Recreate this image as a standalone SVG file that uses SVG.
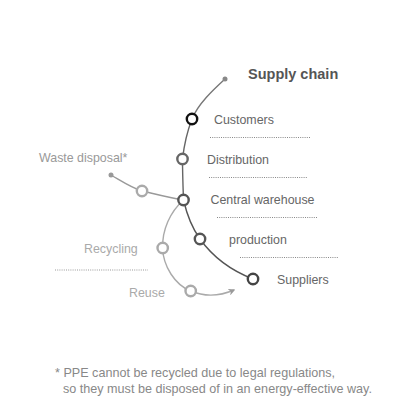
<svg xmlns="http://www.w3.org/2000/svg" width="407" height="407" viewBox="0 0 407 407">
<defs>
<marker id="arr" viewBox="0 0 10 10" refX="8" refY="5" markerWidth="7" markerHeight="7" orient="auto" markerUnits="userSpaceOnUse">
<path d="M0,0 L10,5 L0,10 L3,5 Z" fill="#999"/>
</marker>
</defs>
<style>
text{font-family:"Liberation Sans",Arial,sans-serif;font-size:12.4px}
.lbl{fill:#666}
.lt{fill:#aaa}
.dot{stroke-dasharray:1 1.2;stroke-width:1;fill:none}
.node{fill:#fff;stroke-width:2.4}
.ln{fill:none;stroke-width:1.4}
</style>
<rect width="407" height="407" fill="#fff"/>
<g id="connectors">
<path class="ln" stroke="#777" d="M225,79 C213,90 198,104 192,119"/>
<path class="ln" stroke="#666" d="M192,119 C187,132 184,146 182.5,159"/>
<path class="ln" stroke="#666" d="M182.5,159 C182.5,173 183,186 183.5,200"/>
<path class="ln" stroke="#555" d="M183.5,200 C187,215 192,228 200,239"/>
<path class="ln" stroke="#555" d="M200,239 C215,260 235,272 253,279"/>
<path class="ln" stroke="#999" d="M183.5,200 C170,198 155,194 142,191 C130,187 120,180 111,175"/>
<path class="ln" stroke="#aaa" d="M183.5,200 C170,212 162,230 162.7,248 C163,266 175,285 190.7,291 C205,297 220,296 234,290" marker-end="url(#arr)"/>
<circle cx="225" cy="79" r="2.5" fill="#888"/>
<circle cx="111" cy="175" r="2.5" fill="#999"/>
</g>
<g id="title"><text x="248" y="79" font-weight="bold" style="font-size:14.5px" fill="#555">Supply chain</text></g>
<g id="customers">
<circle class="node" cx="192" cy="119" r="5.2" stroke="#111"/>
<text class="lbl" x="214" y="124">Customers</text>
<line class="dot" stroke="#888" x1="210" y1="137.5" x2="310" y2="137.5"/>
</g>
<g id="distribution">
<circle class="node" cx="182.5" cy="159" r="5.2" stroke="#666"/>
<text class="lbl" x="207" y="164">Distribution</text>
<line class="dot" stroke="#888" x1="209" y1="177.5" x2="308" y2="177.5"/>
</g>
<g id="central-warehouse">
<circle class="node" cx="183.5" cy="200" r="5.2" stroke="#555"/>
<text class="lbl" x="210.5" y="204">Central warehouse</text>
<line class="dot" stroke="#888" x1="217" y1="217.5" x2="317" y2="217.5"/>
</g>
<g id="production">
<circle class="node" cx="200" cy="239" r="5.2" stroke="#555"/>
<text class="lbl" x="229" y="244">production</text>
<line class="dot" stroke="#888" x1="240" y1="257.5" x2="339" y2="257.5"/>
</g>
<g id="suppliers">
<circle class="node" cx="253" cy="279" r="5.2" stroke="#444"/>
<text class="lbl" x="277" y="284">Suppliers</text>
</g>
<g id="waste-disposal">
<circle class="node" cx="142" cy="191" r="5.2" stroke="#aaa"/>
<text x="39" y="162" fill="#999">Waste disposal*</text>
</g>
<g id="recycling">
<circle class="node" cx="162.7" cy="248" r="5.2" stroke="#aaa"/>
<text class="lt" x="84" y="253">Recycling</text>
<line class="dot" stroke="#999" x1="55" y1="270" x2="148" y2="270"/>
</g>
<g id="reuse">
<circle class="node" cx="190.7" cy="291" r="5.2" stroke="#aaa"/>
<text class="lt" x="129" y="297">Reuse</text>
</g>
<g id="footnote" fill="#888">
<text x="55" y="377" style="font-size:12.6px">* PPE cannot be recycled due to legal regulations,</text>
<text x="63" y="393" style="font-size:12.6px">so they must be disposed of in an energy-effective way.</text>
</g>
</svg>
